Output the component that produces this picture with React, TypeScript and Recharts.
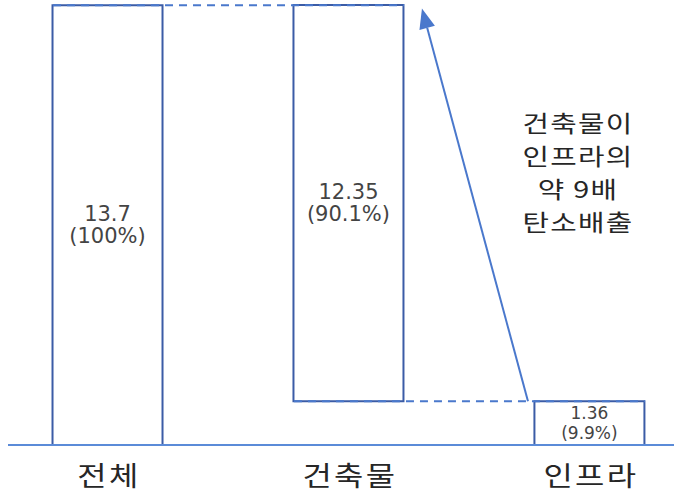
import React from 'react';
import { BarChart, Bar, XAxis, YAxis, LabelList, ReferenceLine } from 'recharts';

// values (Mt CO2e) and shares
const categories = ['전체', '건축물', '인프라'];
const values = [13.7, 12.35, 1.36];
const bases = [0, 1.36, 0]; // 건축물 floats on top of 인프라
const shares = ['100%', '90.1%', '9.9%'];
const noteLines = ['건축물이', '인프라의', '약 9배', '탄소배출'];

const W = 674;
const H = 492;
const BAR_SIZE = 110;
const PX_PER_UNIT = 241; // distance between bar centers
const HALF_BAR = BAR_SIZE / 2 / PX_PER_UNIT;

const BAR_STROKE = '#3b5ca6';
const LINE_BLUE = '#4a78cc';
const NUM_FONT = "'DejaVu Sans', 'Noto Sans CJK KR', sans-serif";
const KR_FONT = "'Noto Sans CJK KR', sans-serif";

const data = categories.map((name, i) => ({
  x: i,
  name,
  range: [bases[i], bases[i] + values[i]],
  value: values[i],
  share: shares[i],
}));

// two line label inside each bar (smaller when the bar is short)
const BarText = (props: any) => {
  const { x, y, width, height, index } = props;
  const row = data[index];
  const cx = x + width / 2;
  const cy = y + height / 2;
  const small = height < 60;
  const gap = small ? 20 : 22;
  const size = small ? 17 : 21;
  return (
    <g fontFamily={NUM_FONT} fontSize={size} fill="#444" textAnchor="middle">
      <text x={cx} y={cy - gap / 2} dominantBaseline="central">{row.value}</text>
      <text x={cx} y={cy + gap / 2} dominantBaseline="central">({row.share})</text>
    </g>
  );
};

// the hangul in the source is drawn wide, so stretch it a little
const CategoryTick = (props: any) => {
  const { x, y, payload } = props;
  return (
    <text
      transform={`translate(${x + 1},${y + 33}) scale(1.18,1)`}
      textAnchor="middle"
      fontFamily={KR_FONT}
      fontSize={27}
      letterSpacing={2}
      fill="#262626"
    >
      {categories[payload.value]}
    </text>
  );
};

// arrow from the 인프라 bar up to the top
const Arrow = (props: any) => {
  const { x1, y1, x2, y2 } = props;
  const dx = x2 - x1;
  const dy = y2 - y1;
  const len = Math.sqrt(dx * dx + dy * dy);
  const ux = dx / len;
  const uy = dy / len;
  const headLen = 20;
  const headW = 8;
  const bx = x2 - ux * headLen;
  const by = y2 - uy * headLen;
  return (
    <g>
      <line x1={x1} y1={y1} x2={bx} y2={by} stroke={LINE_BLUE} strokeWidth={2} />
      <polygon
        points={`${x2},${y2} ${bx - uy * headW},${by + ux * headW} ${bx + uy * headW},${by - ux * headW}`}
        fill={LINE_BLUE}
      />
    </g>
  );
};

export default function App() {
  return (
    <div style={{ position: 'absolute', left: 0, top: 0, width: W, height: H, background: '#fff' }}>
      <BarChart width={W} height={H} data={data} margin={{ top: 5, right: 0, bottom: 0, left: 8 }}>
        <XAxis
          type="number"
          dataKey="x"
          domain={[-0.415, 2.349]}
          ticks={[0, 1, 2]}
          allowDataOverflow
          height={47}
          axisLine={{ stroke: '#5b8bd8', strokeWidth: 2 }}
          tickLine={false}
          tick={<CategoryTick />}
        />
        <YAxis hide domain={[0, values[0]]} />
        <Bar
          dataKey="range"
          barSize={BAR_SIZE}
          fill="#fff"
          stroke={BAR_STROKE}
          strokeWidth={2}
          isAnimationActive={false}
        >
          <LabelList dataKey="value" content={<BarText />} />
        </Bar>
        <ReferenceLine
          segment={[{ x: -HALF_BAR, y: values[0] }, { x: 1 + HALF_BAR, y: values[0] }]}
          stroke={LINE_BLUE}
          strokeWidth={2}
          strokeDasharray="8 6"
        />
        <ReferenceLine
          segment={[{ x: 1 - HALF_BAR, y: values[2] }, { x: 2 + HALF_BAR, y: values[2] }]}
          stroke={LINE_BLUE}
          strokeWidth={2}
          strokeDasharray="8 6"
        />
        <ReferenceLine
          segment={[{ x: 1.743, y: values[2] }, { x: 1.303, y: 13.6 }]}
          shape={<Arrow />}
        />
      </BarChart>
      <div
        style={{
          position: 'absolute',
          left: 513,
          top: 106,
          width: 130,
          textAlign: 'center',
          fontFamily: KR_FONT,
          fontSize: 23,
          lineHeight: '33px',
          letterSpacing: 1,
          color: '#262626',
          transform: 'scaleX(1.25)',
          transformOrigin: 'center',
        }}
      >
        {noteLines.map((l) => (
          <div key={l}>{l}</div>
        ))}
      </div>
    </div>
  );
}
